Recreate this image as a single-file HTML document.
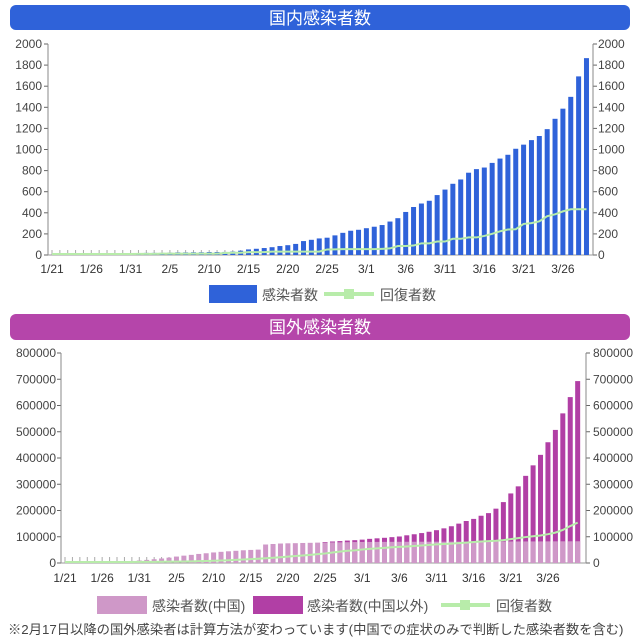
<!DOCTYPE html>
<html><head><meta charset="utf-8">
<style>
body{margin:0;background:#fff;width:640px;height:641px;overflow:hidden;font-family:"Liberation Sans","Noto Sans CJK JP",sans-serif;}
svg{position:absolute;left:0;top:0}
</style></head><body>
<svg id="s" width="640" height="641" xmlns="http://www.w3.org/2000/svg" font-family="Liberation Sans, Noto Sans CJK JP, sans-serif"></svg>
<script>
var o='';
function R(x,y,w,h,c,extra){o+='<rect x="'+x+'" y="'+y+'" width="'+w+'" height="'+h+'" fill="'+c+'" '+(extra||'')+'/>';}
function T(x,y,t,s,c,a){o+='<text x="'+x+'" y="'+y+'" font-size="'+s+'" fill="'+c+'" text-anchor="'+(a||'start')+'">'+t+'</text>';}
function L(x1,y1,x2,y2,c,w){o+='<line x1="'+x1+'" y1="'+y1+'" x2="'+x2+'" y2="'+y2+'" stroke="'+c+'" stroke-width="'+(w||1)+'"/>';}
var labels=['1/21','1/26','1/31','2/5','2/10','2/15','2/20','2/25','3/1','3/6','3/11','3/16','3/21','3/26'];
R(10,5,620,25,'#2f62d9','rx="6"');T(320,24,'国内感染者数',17,'#fff','middle');
var d1=[0,0,0,0,1,3,4,7,7,11,14,17,20,20,20,22,25,25,26,26,28,28,29,33,41,53,59,66,74,85,93,105,132,144,157,164,186,210,230,239,254,268,284,317,349,408,455,488,514,568,620,675,716,780,814,829,873,914,950,1007,1046,1089,1128,1193,1291,1387,1499,1693,1866];
var r1=[0,0,0,0,0,0,0,0,0,0,0,1,1,1,4,4,4,4,4,4,4,4,9,12,12,18,18,18,22,22,22,23,23,23,23,43,44,46,46,46,46,46,49,53,76,76,80,101,101,118,118,144,144,157,157,171,191,215,232,235,285,293,310,359,376,404,424,424,424];
var x0=52,p=7.86,yb=255,ys=211/2000;
for(var k=0;k<=10;k++){var v=k*200,y=yb-v*ys;T(42,y+4,v,12,'#444','end');T(598,y+4,v,12,'#444','start');L(44,y,48,y,'#666');L(593,y,597,y,'#666');}
L(48,44,48,255,'#888');L(593,44,593,255,'#888');L(48,255,593,255,'#999');
for(var i=0;i<d1.length;i++){var x=x0+p*i;L(x,255,x,250,'#aaa');var h=d1[i]*ys;if(h>0)R(x-2.5,yb-h,5,h,'#2f62d9');}
var pts=r1.map(function(v,i){return (x0+p*i)+','+(yb-v*ys-1)}).join(' ');
o+='<polyline points="'+pts+'" fill="none" stroke="#b8ecaa" stroke-width="2"/>';
labels.forEach(function(l,j){T(x0+p*5*j,273,l,12,'#333','middle');});
R(209,285,48,18,'#2f62d9');T(262,300,'感染者数',14,'#555');
R(324,292,50,4,'#b8ecaa');R(344,289,10,10,'#b8ecaa');T(380,300,'回復者数',14,'#555');
R(10,314,620,26,'#b545aa','rx="6"');T(320,333,'国外感染者数',17,'#fff','middle');
var ch=[300,450,600,900,1300,2000,2800,4500,6000,7700,9700,11800,14400,17200,20400,24500,28000,31000,34500,37100,40200,42600,44600,46500,48500,49800,51000,70500,72400,74200,75000,75500,76300,76900,77600,78100,78500,78800,79300,79800,80000,80200,80400,80500,80700,80800,80900,81000,81100,81100,81200,81200,81300,81400,81500,81600,81600,81700,81800,81900,82000,82000,82100,82200,82300,82400,82500,82600,82700,82800];
var tot=[0,0,0,0,0,0,0,0,0,0,0,0,0,0,0,0,0,0,0,0,0,0,0,0,0,0,0,0,0,0,0,0,0,0,0,80000,82000,83500,85500,87000,89000,92000,94000,96000,98500,101000,105500,109500,114000,119000,125000,132000,140000,150000,160000,168000,180000,190000,207000,232000,265000,292000,332000,372000,412000,460000,507000,570000,632000,693000];
var rc=[0,0,0,0,0,0,0,0,100,200,300,500,700,900,1200,1500,2000,2500,3200,3900,4700,5700,6700,8000,9300,11000,12500,14500,16000,18200,20600,22800,24800,27300,29800,32500,36000,39500,42700,44500,47500,50000,52000,54000,56000,57500,59000,61000,63000,65000,67000,68500,70000,72000,74000,76000,78000,79500,81000,83500,87000,91000,95000,98000,101000,106000,112000,122000,137000,150000,165000];
var X0=65,P=7.43,Yb=563,Ys=210/800000;
for(var k=0;k<=8;k++){var v=k*100000,y=Yb-v*Ys;T(56,y+4,v,12,'#444','end');T(593,y+4,v,12,'#444','start');L(57,y,61,y,'#666');L(586,y,590,y,'#666');}
L(61,353,61,563,'#888');L(586,353,586,563,'#888');L(61,563,586,563,'#999');
for(var i=0;i<70;i++){var x=X0+P*i;L(x,563,x,557,'#aaa');
 var t=tot[i]||0,c=ch[i];if(t>c){var h=t*Ys;R(x-2.5,Yb-h,5,h,'#b13fa5');}
 var hc=c*Ys;R(x-2.5,Yb-hc,5,hc,'#cf98c8');}
pts=[];for(var i=0;i<70;i++)pts.push((X0+P*i)+','+(Yb-(rc[i]||0)*Ys-1));
o+='<polyline points="'+pts.join(' ')+'" fill="none" stroke="#b8ecaa" stroke-width="2"/>';
labels.forEach(function(l,j){T(X0+P*5*j,582,l,12,'#333','middle');});
R(97,596,50,18,'#cf98c8');T(152,611,'感染者数(中国)',14,'#555');
R(253,596,50,18,'#b13fa5');T(307,611,'感染者数(中国以外)',14,'#555');
R(441,603,49,4,'#b8ecaa');R(460,600,10,10,'#b8ecaa');T(496,611,'回復者数',14,'#555');
T(8,634,'※2月17日以降の国外感染者は計算方法が変わっています(中国での症状のみで判断した感染者数を含む)',13.3,'#444');
document.getElementById('s').innerHTML=o;
</script>
</body></html>
